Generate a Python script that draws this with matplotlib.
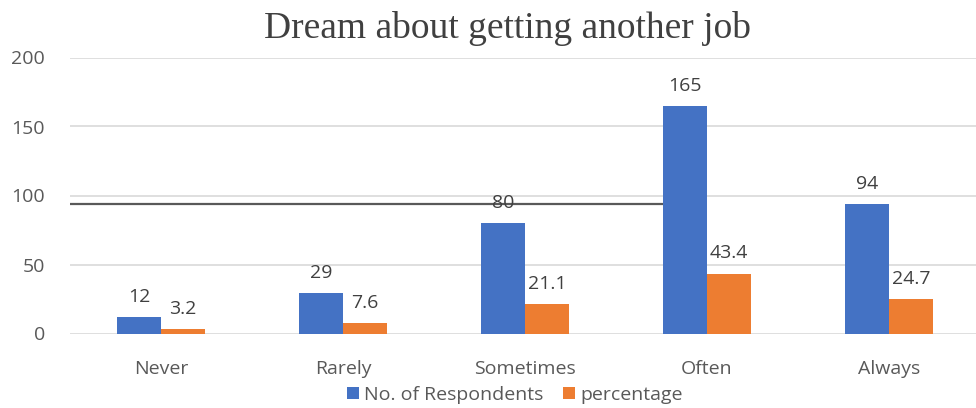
import matplotlib
matplotlib.use("Agg")
import matplotlib.pyplot as plt
import numpy as np

categories = ["Never", "Rarely", "Sometimes", "Often", "Always"]
respondents = [12, 29, 80, 165, 94]
percentage = [3.2, 7.6, 21.1, 43.4, 24.7]
yticks = [0, 50, 100, 150, 200]
ref_value = 94

blue = "#4472C4"
orange = "#ED7D31"
text_col = "#595959"
label_col = "#404040"

plt.rcParams["font.family"] = ["Open Sans", "DejaVu Sans"]

fig = plt.figure(figsize=(9.76, 4.08), dpi=100)
ax = fig.add_axes([70 / 976, (408 - 333.5) / 408, 910 / 976, 276 / 408])

x = np.arange(len(categories))
w = 0.24
b1 = ax.bar(x - w / 2, respondents, w, color=blue, label="No. of Respondents", zorder=3)
b2 = ax.bar(x + w / 2, percentage, w, color=orange, label="percentage", zorder=3)

for rect, v in zip(b1, respondents):
    ax.annotate(f"{v}", (rect.get_x() + rect.get_width() / 2, v), xytext=(0, 8),
                textcoords="offset points", ha="center", va="bottom",
                fontsize=14, color=label_col, zorder=4)
for rect, v in zip(b2, percentage):
    ax.annotate(f"{v}", (rect.get_x() + rect.get_width() / 2, v), xytext=(0, 8),
                textcoords="offset points", ha="center", va="bottom",
                fontsize=14, color=label_col, zorder=4)

ax.set_xlim(-0.5, len(categories) - 0.5)
ax.set_ylim(0, 200)
ax.set_yticks(yticks)
ax.set_xticks(x)
ax.set_xticklabels(categories)
ax.tick_params(axis="both", length=0, colors=text_col, labelsize=14)
ax.tick_params(axis="x", pad=19)
ax.tick_params(axis="y", pad=18)
ax.grid(axis="y", color="#D9D9D9", linewidth=1.2, zorder=0)
for s in ax.spines.values():
    s.set_visible(False)

# dark reference line across the left part of the plot
ax.axhline(ref_value, xmin=0, xmax=(668 - 70) / 910, color="#595959", linewidth=1.6, zorder=2.5)

fig.text(507 / 976, 1 - 28 / 408, "Dream about getting another job",
         family=["Liberation Serif"], fontsize=27, color=label_col,
         ha="center", va="center")

leg = fig.legend(handles=[b1, b2], loc="center", bbox_to_anchor=(515 / 976, 1 - 395 / 408),
                 ncol=2, frameon=False, fontsize=14, handlelength=0.6, handleheight=0.6,
                 columnspacing=1.0, handletextpad=0.3, labelcolor=text_col)

fig.savefig("out.png", dpi=100)
